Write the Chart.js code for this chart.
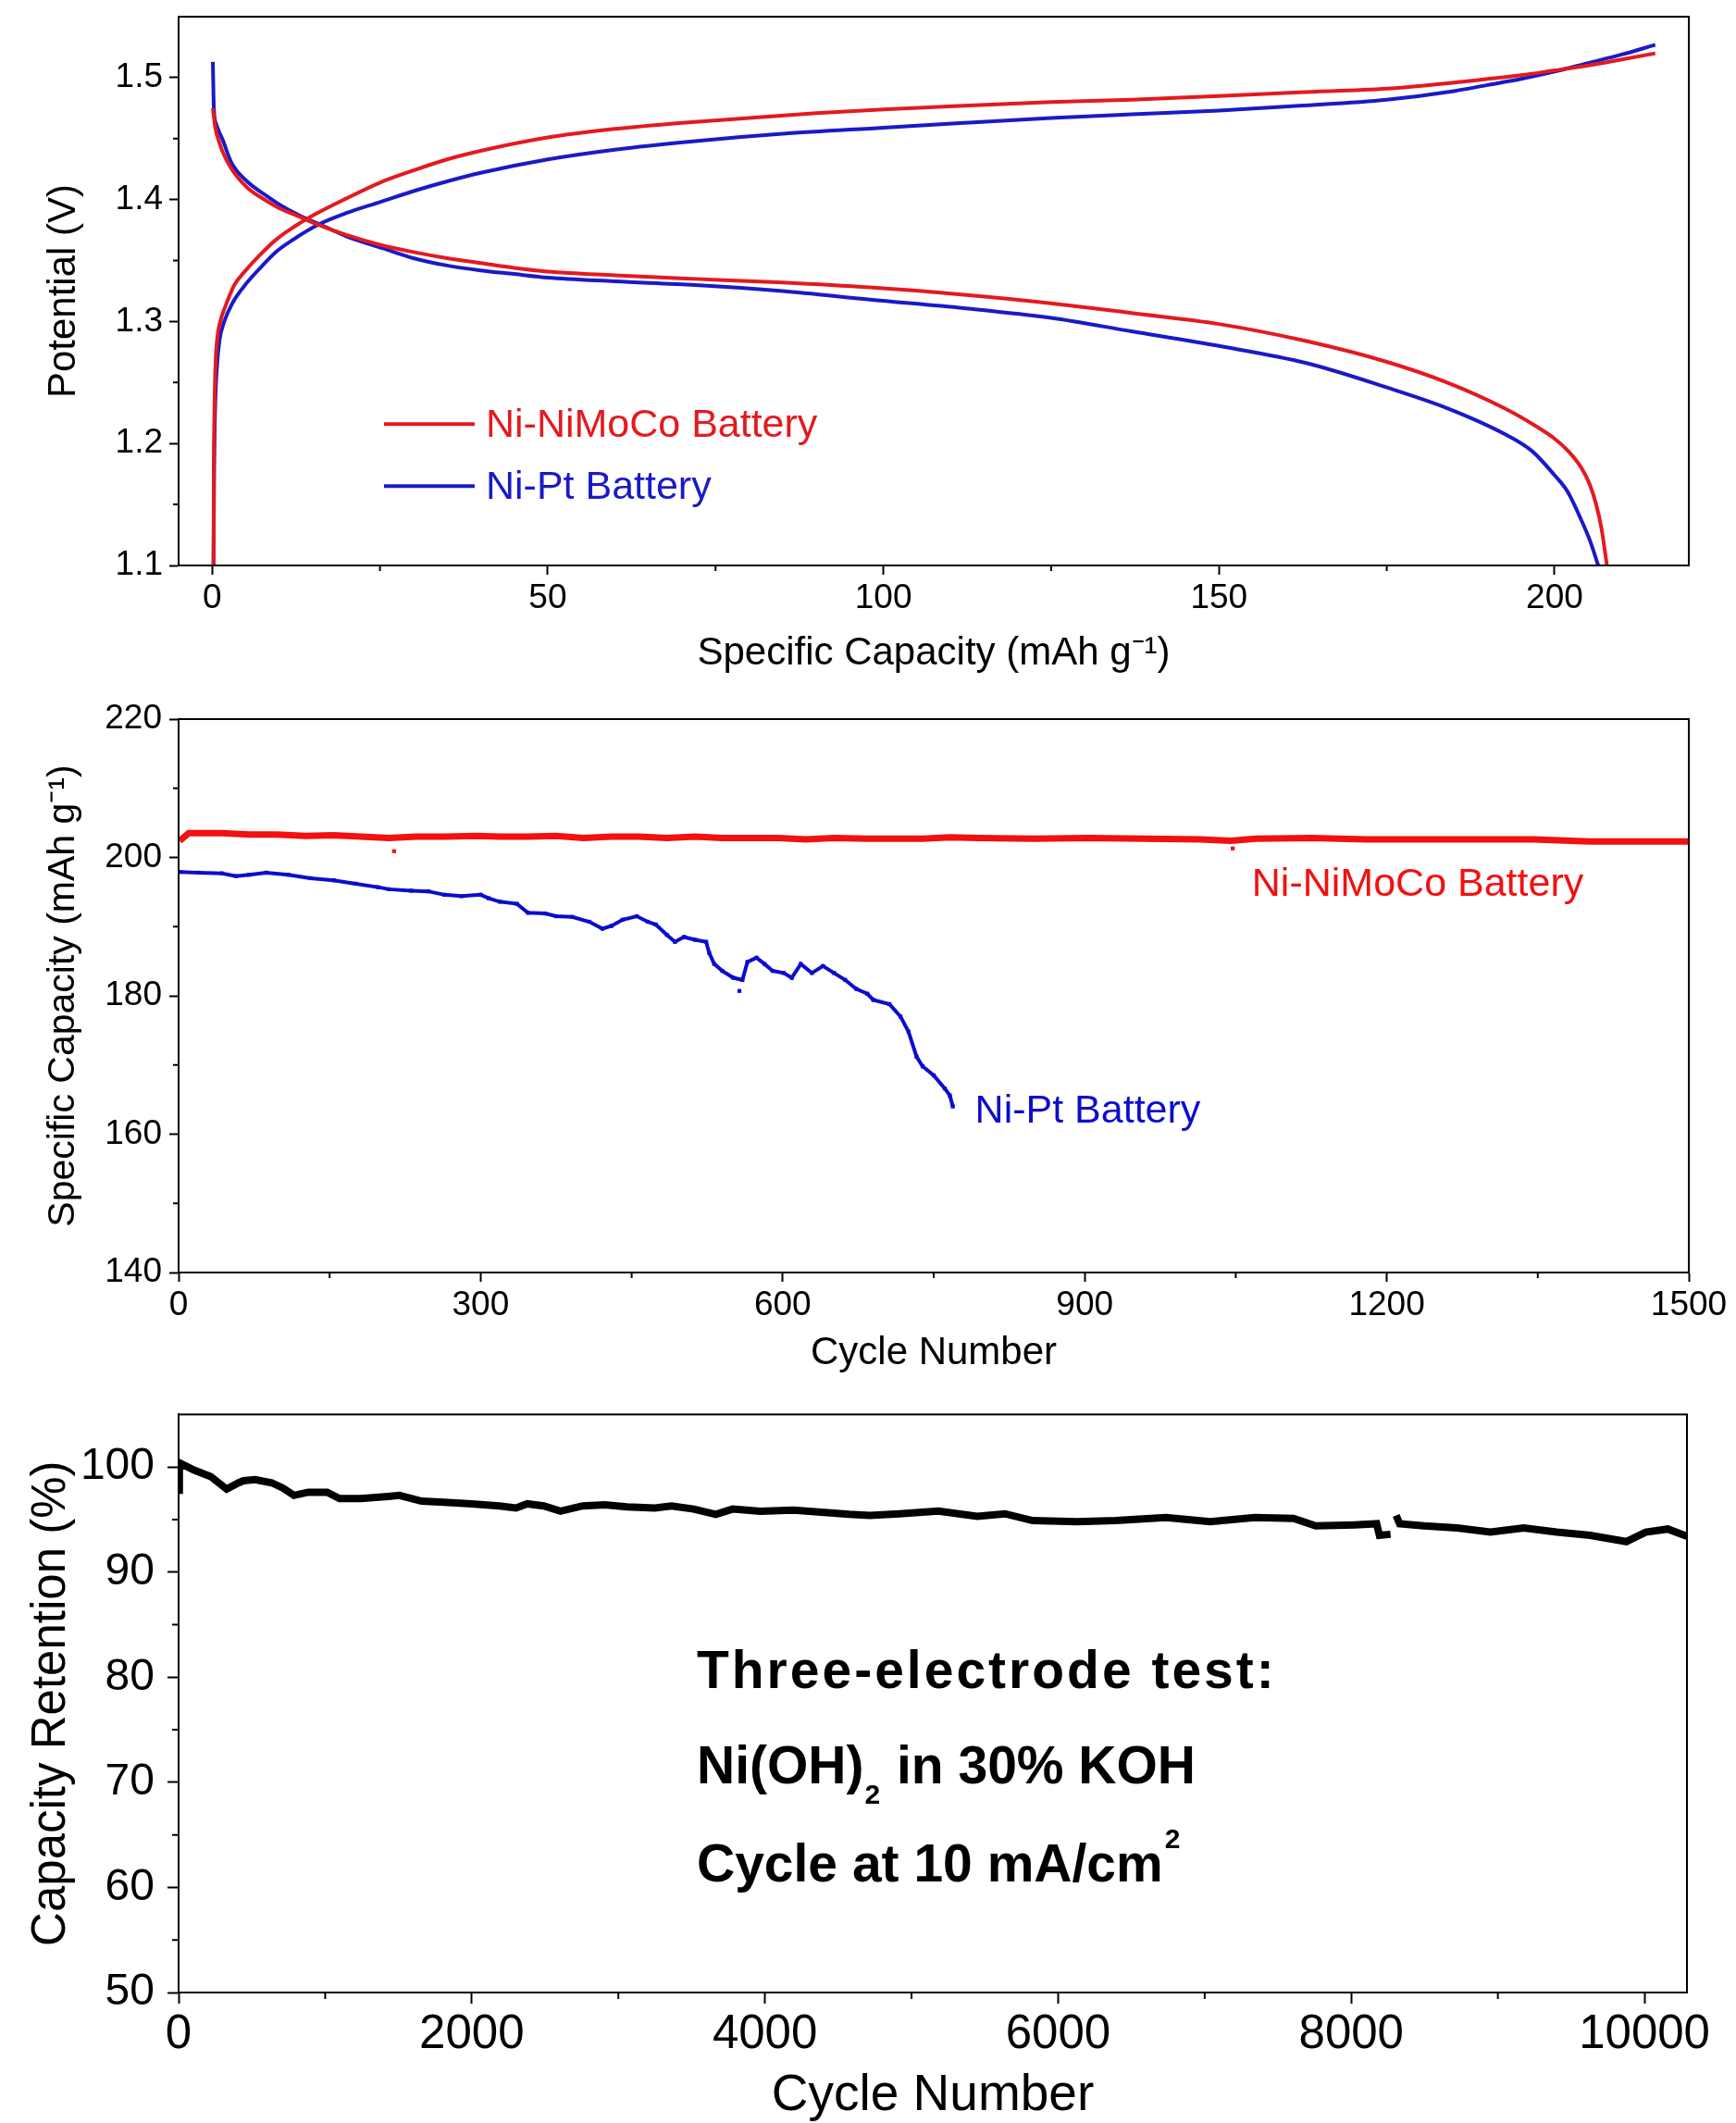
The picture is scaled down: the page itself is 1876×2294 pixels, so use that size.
<!DOCTYPE html>
<html><head><meta charset="utf-8">
<script src="https://cdn.jsdelivr.net/npm/chart.js@4/dist/chart.umd.min.js"></script>
<style>
html,body{margin:0;padding:0;background:#fff;}
#wrap{position:relative;width:1876px;height:2294px;background:#fff;}
canvas{position:absolute;left:0;}
</style></head><body>
<div id="wrap">
<canvas id="c1" width="1876" height="740" style="top:0px"></canvas>
<canvas id="c2" width="1876" height="760" style="top:740px"></canvas>
<canvas id="c3" width="1876" height="794" style="top:1500px"></canvas>
</div>
<script>
// ================= DATA =================
const seriesNames = ['Ni-NiMoCo Battery', 'Ni-Pt Battery'];

// Panel 1: charge / discharge curves (Specific capacity mAh/g, Potential V)
const capRedCharge = [0.2,0.25,0.35,0.5,0.8,1.2,2.0,3.3,5,7,9.7,12,15,20,25,30,35,40,50,60,70,80,90,100,112,125,137,150,162,175,185,190,195,200,205,210,215];
const potRedCharge = [1.100,1.18,1.23,1.265,1.288,1.300,1.313,1.330,1.342,1.354,1.368,1.377,1.387,1.401,1.414,1.424,1.433,1.440,1.451,1.458,1.463,1.467,1.471,1.474,1.477,1.480,1.482,1.485,1.488,1.491,1.496,1.499,1.502,1.506,1.510,1.515,1.520];
const capBlueCharge = [0.2,0.3,0.45,0.7,1.1,1.8,3,5.2,7.5,9.7,12,16,20,25,30,35,40,50,60,72,85,100,112,125,137,150,162,175,185,190,195,200,205,210,215];
const potBlueCharge = [1.100,1.18,1.23,1.262,1.285,1.300,1.315,1.332,1.346,1.358,1.367,1.380,1.389,1.398,1.407,1.415,1.422,1.433,1.441,1.448,1.454,1.459,1.463,1.467,1.470,1.473,1.477,1.482,1.489,1.494,1.499,1.505,1.512,1.519,1.527];
const capRedDischarge = [0.1,0.5,1.0,1.5,2.9,5.2,8.4,10,13,16,20,25,30,35,40,45,50,60,72,85,98,112,125,137,150,163,175,184,192.5,197,200,202,204,205.2,206.2,207,207.8];
const potRedDischarge = [1.475,1.458,1.448,1.440,1.425,1.410,1.398,1.393,1.386,1.379,1.371,1.363,1.357,1.352,1.348,1.344,1.341,1.338,1.335,1.332,1.328,1.322,1.315,1.307,1.298,1.284,1.267,1.250,1.229,1.215,1.204,1.194,1.180,1.167,1.150,1.130,1.100];
const capBlueDischarge = [0.1,0.15,0.25,0.6,1.0,1.5,2.9,5.2,8.4,10,13,16.3,20,25.5,30,35,40,45,50,60,72,85,98,112,125,137,150,163,175,184,192.5,196.6,200,202,204,205.3,206.5];
const potBlueDischarge = [1.513,1.500,1.475,1.462,1.456,1.450,1.430,1.415,1.402,1.396,1.387,1.379,1.370,1.360,1.352,1.346,1.342,1.339,1.336,1.333,1.330,1.325,1.318,1.311,1.303,1.292,1.280,1.266,1.246,1.229,1.208,1.194,1.174,1.160,1.137,1.120,1.100];
const capTicks = [0,50,100,150,200];
const capTickLabels = ['0','50','100','150','200'];
const potTicks = [1.1,1.2,1.3,1.4,1.5];
const potTickLabels = ['1.1','1.2','1.3','1.4','1.5'];

// Panel 2: cycling of full batteries (Cycle number, Specific capacity)
const redCycles = [1,10,43,71,98,126,154,181,209,236,264,297,319,347,375,402,430,457,485,513,540,568,596,623,651,684,739,766,794,849,904,960,1015,1045,1070,1125,1180,1235,1291,1346,1401,1456,1500];
const redCapacity = [202.4,203.5,203.5,203.3,203.3,203.1,203.2,203.0,202.8,203.0,203.0,203.1,203.0,203.0,203.1,202.8,203.0,203.0,202.8,203.0,202.8,202.8,202.8,202.6,202.8,202.7,202.7,202.9,202.8,202.7,202.8,202.7,202.6,202.4,202.7,202.8,202.6,202.6,202.6,202.6,202.3,202.3,202.3];
const redOutlierCycles = [214,1047];
const redOutlierCapacity = [200.9,201.3];
const blueCycles = [2,20,43,57,70,87,109,131,154,176,198,209,231,248,264,281,300,308,319,336,347,364,375,391,408,421,430,441,455,466,474,485,493,502,513,524,527,532,540,551,560,565,574,582,590,601,609,618,629,640,651,662,673,684,690,706,717,725,733,739,750,761,766,769];
const blueCapacity = [197.9,197.8,197.7,197.3,197.5,197.8,197.5,197.0,196.7,196.2,195.7,195.4,195.2,195.1,194.6,194.4,194.6,194.1,193.6,193.3,192.0,191.9,191.5,191.4,190.7,189.7,190.1,191.0,191.5,190.7,190.3,188.8,187.8,188.5,188.1,187.8,186.2,184.6,183.6,182.6,182.3,184.9,185.5,184.6,183.6,183.3,182.6,184.6,183.3,184.3,183.3,182.3,181.0,180.3,179.4,178.8,177.0,174.8,171.2,169.8,168.5,166.6,165.6,164.0];
const blueOutlierCycles = [557];
const blueOutlierCapacity = [180.7];
const cycTicks2 = [0,300,600,900,1200,1500];
const cycTickLabels2 = ['0','300','600','900','1200','1500'];
const capTicks2 = [140,160,180,200,220];
const capTickLabels2 = ['140','160','180','200','220'];

// Panel 3: three-electrode retention (Cycle number, Capacity retention %)
const retCycles = [0,5,106,219,328,409,443,522,636,712,787,884,1014,1098,1242,1431,1506,1658,1810,1999,2188,2302,2378,2491,2605,2757,2908,3060,3249,3362,3514,3665,3779,3968,4195,4384,4574,4716,4918,5183,5448,5637,5826,6129,6394,6735,7038,7341,7606,7757,8022,8173,8192,8268,8290,8306,8330,8495,8722,8949,9176,9403,9630,9876,10008,10159,10290];
const retValues = [97.8,100.4,99.7,99.1,97.9,98.5,98.7,98.8,98.5,98.0,97.3,97.6,97.6,97.0,97.0,97.2,97.3,96.75,96.65,96.5,96.3,96.1,96.5,96.3,95.8,96.3,96.4,96.2,96.1,96.3,96.0,95.5,96.0,95.8,95.9,95.7,95.5,95.4,95.55,95.8,95.3,95.55,94.9,94.8,94.9,95.2,94.8,95.2,95.1,94.4,94.5,94.6,93.5,93.6,null,95.4,94.6,94.4,94.2,93.8,94.2,93.8,93.5,92.9,93.8,94.1,93.4];
const cycTicks3 = [0,2000,4000,6000,8000,10000];
const cycTickLabels3 = ['0','2000','4000','6000','8000','10000'];
const retTicks = [50,60,70,80,90,100];
const retTickLabels = ['50','60','70','80','90','100'];
const annotationLines = ['Three-electrode test:', 'Ni(OH)|2| in 30% KOH', 'Cycle at 10 mA/cm^2^'];

// ================= HELPERS =================
const FONT = '"Liberation Sans", Arial, Helvetica, sans-serif';
const RED1 = '#e31a1f', BLUE1 = '#1a1ac6';
const RED2 = '#f21010', BLUE2 = '#0d0dcc';
const pts = (xs, ys) => xs.map((x, i) => ({x: x, y: ys[i]}));

const framePlugin = {
  id: 'frame',
  afterDraw(chart, args, opts) {
    const {ctx, chartArea: a, scales} = chart;
    ctx.save();
    ctx.strokeStyle = '#000';
    ctx.lineWidth = 2;
    ctx.strokeRect(a.left, a.top, a.right - a.left, a.bottom - a.top);
    ctx.beginPath();
    (opts.minorX || []).forEach(v => {
      const px = scales.x.getPixelForValue(v);
      ctx.moveTo(px, a.bottom); ctx.lineTo(px, a.bottom + opts.minorLen);
    });
    (opts.minorY || []).forEach(v => {
      const py = scales.y.getPixelForValue(v);
      ctx.moveTo(a.left, py); ctx.lineTo(a.left - opts.minorLen, py);
    });
    ctx.stroke();
    ctx.restore();
  }
};
Chart.register(framePlugin);

function axis(opts) {
  return {
    type: 'linear',
    min: opts.min, max: opts.max,
    afterBuildTicks: s => { s.ticks = opts.ticks.map(v => ({value: v})); },
    afterFit: opts.fit,
    ticks: {
      color: '#000',
      font: {family: FONT, size: opts.tickSize, lineHeight: opts.tickLH || 1.2},
      padding: opts.tickPad,
      maxRotation: 0, autoSkip: false,
      callback: (v) => { const i = opts.ticks.indexOf(v); return i >= 0 ? opts.labels[i] : ''; }
    },
    grid: {drawOnChartArea: false, drawTicks: true, tickLength: opts.tickLen, tickWidth: 2, tickColor: '#000'},
    border: {display: true, color: '#000', width: 2},
    title: {display: true, text: opts.title, color: '#000',
      font: {family: FONT, size: opts.titleSize, lineHeight: opts.titleLH || 1.2},
      padding: opts.titlePad}
  };
}

// ================= CHART 1 =================
new Chart(document.getElementById('c1'), {
  type: 'scatter',
  data: {datasets: [
    {data: pts(capRedCharge, potRedCharge), borderColor: RED1},
    {data: pts(capRedDischarge, potRedDischarge), borderColor: RED1},
    {data: pts(capBlueCharge, potBlueCharge), borderColor: BLUE1},
    {data: pts(capBlueDischarge, potBlueDischarge), borderColor: BLUE1}
  ].map(d => Object.assign(d, {showLine: true, borderWidth: 4, pointRadius: 0, cubicInterpolationMode: 'monotone', fill: false}))},
  options: {
    responsive: false, animation: false, devicePixelRatio: 1,
    layout: {padding: {left: 0, right: 51, top: 14, bottom: 0}},
    plugins: {
      legend: {display: false}, tooltip: {enabled: false},
      frame: {minorX: [25,75,125,175], minorY: [1.15,1.25,1.35,1.45], minorLen: 6}
    },
    scales: {
      x: axis({min: -5, max: 220, ticks: capTicks, labels: capTickLabels, tickSize: 37, tickPad: 4, tickLen: 10,
        fit: s => { s.height = 740 - 611; }, title: 'Specific Capacity (mAh g\u207B\u00B9)', titleSize: 42,
        titlePad: {top: 0, bottom: 8}}),
      y: axis({min: 1.1, max: 1.55, ticks: potTicks, labels: potTickLabels, tickSize: 37, tickLH: 0.6, tickPad: 7, tickLen: 10,
        fit: s => { s.width = 193; }, title: 'Potential (V)', titleSize: 42, titlePad: {top: 44, bottom: 0}})
    }
  },
  plugins: [{
    id: 'legendBox',
    afterDatasetsDraw(chart) {
      const {ctx, scales: {x, y}} = chart;
      const x0 = x.getPixelForValue(25.6), y0 = y.getPixelForValue(1.216);
      const cols = [RED1, BLUE1];
      ctx.save();
      seriesNames.forEach((name, i) => {
        const yy = y0 + i * 67;
        ctx.strokeStyle = cols[i]; ctx.lineWidth = 4;
        ctx.beginPath(); ctx.moveTo(x0, yy); ctx.lineTo(x0 + 98, yy); ctx.stroke();
        ctx.fillStyle = cols[i]; ctx.font = '43px ' + FONT; ctx.textBaseline = 'middle'; ctx.textAlign = 'left';
        ctx.fillText(name, x0 + 110, yy + 2);
      });
      ctx.restore();
    }
  }]
});

// ================= CHART 2 =================
new Chart(document.getElementById('c2'), {
  type: 'scatter',
  data: {datasets: [
    {data: pts(redCycles, redCapacity), showLine: true, borderColor: RED2, borderWidth: 7, pointRadius: 0, tension: 0},
    {data: pts(redOutlierCycles, redOutlierCapacity), showLine: false, backgroundColor: RED2, borderWidth: 0, pointStyle: 'rect', pointRadius: 3},
    {data: pts(blueCycles, blueCapacity), showLine: true, borderColor: BLUE2, borderWidth: 4, backgroundColor: BLUE2, pointBorderWidth: 0, pointStyle: 'rect', pointRadius: 3, tension: 0},
    {data: pts(blueOutlierCycles, blueOutlierCapacity), showLine: false, backgroundColor: BLUE2, borderWidth: 0, pointStyle: 'rect', pointRadius: 3}
  ]},
  options: {
    responsive: false, animation: false, devicePixelRatio: 1,
    layout: {padding: {left: 0, right: 51, top: 37, bottom: 0}},
    plugins: {
      legend: {display: false}, tooltip: {enabled: false},
      frame: {minorX: [150,450,750,1050,1350], minorY: [150,170,190,210], minorLen: 6}
    },
    scales: {
      x: axis({min: 0, max: 1500, ticks: cycTicks2, labels: cycTickLabels2, tickSize: 37, tickPad: 4, tickLen: 10,
        fit: s => { s.height = 760 - 635; }, title: 'Cycle Number', titleSize: 42, titlePad: {top: 0, bottom: 12}}),
      y: axis({min: 140, max: 220, ticks: capTicks2, labels: capTickLabels2, tickSize: 37, tickLH: 0.6, tickPad: 8, tickLen: 10,
        fit: s => { s.width = 193; }, title: 'Specific Capacity (mAh g\u207B\u00B9)', titleSize: 41, titlePad: {top: 44, bottom: 0}})
    }
  },
  plugins: [{
    id: 'seriesLabels',
    afterDatasetsDraw(chart) {
      const {ctx, scales: {x, y}} = chart;
      const pos = [[1066, 196.0, RED2], [791, 163.3, BLUE2]];
      ctx.save();
      ctx.font = '43px ' + FONT; ctx.textBaseline = 'middle'; ctx.textAlign = 'left';
      seriesNames.forEach((name, i) => {
        ctx.fillStyle = pos[i][2];
        ctx.fillText(name, x.getPixelForValue(pos[i][0]), y.getPixelForValue(pos[i][1]));
      });
      ctx.restore();
    }
  }]
});

// ================= CHART 3 =================
new Chart(document.getElementById('c3'), {
  type: 'scatter',
  data: {datasets: [
    {data: pts(retCycles, retValues), showLine: true, spanGaps: false, borderColor: '#000', borderWidth: 8, pointRadius: 0, tension: 0}
  ]},
  options: {
    responsive: false, animation: false, devicePixelRatio: 1,
    layout: {padding: {left: 0, right: 53, top: 25, bottom: 0}},
    plugins: {
      legend: {display: false}, tooltip: {enabled: false},
      frame: {minorX: [1000,3000,5000,7000,9000], minorY: [55,65,75,85,95], minorLen: 7}
    },
    scales: {
      x: axis({min: 0, max: 10290, ticks: cycTicks3, labels: cycTickLabels3, tickSize: 51, tickPad: 3, tickLen: 12,
        fit: s => { s.height = 794 - 653; }, title: 'Cycle Number', titleSize: 55, titleLH: 1.05, titlePad: {top: 0, bottom: 0}}),
      y: axis({min: 50, max: 105, ticks: retTicks, labels: retTickLabels, tickSize: 48, tickLH: 0.6, tickPad: 14, tickLen: 12,
        fit: s => { s.width = 193; }, title: 'Capacity Retention (%)', titleSize: 51, titlePad: {top: 25, bottom: 0}})
    }
  },
  plugins: [{
    id: 'note',
    afterDatasetsDraw(chart) {
      const {ctx, scales: {x, y}} = chart;
      const left = x.getPixelForValue(3535);
      const baselines = [79.0, 69.9, 60.6].map(v => y.getPixelForValue(v));
      const size = 57, small = 30;
      ctx.save();
      ctx.fillStyle = '#000'; ctx.textBaseline = 'alphabetic'; ctx.textAlign = 'left';
      annotationLines.forEach((line, i) => {
        let cx = left;
        ctx.letterSpacing = i === 0 ? '3px' : '0px';
        const parts = line.split(/(\|[^|]*\||\^[^^]*\^)/);
        parts.forEach(p => {
          if (!p) return;
          if (p[0] === '|') {
            ctx.font = 'bold ' + small + 'px ' + FONT;
            const t = p.slice(1, -1);
            ctx.fillText(t, cx + 1, baselines[i] + 22);
            cx += ctx.measureText(t).width + 3;
          } else if (p[0] === '^') {
            ctx.font = 'bold ' + small + 'px ' + FONT;
            const t = p.slice(1, -1);
            ctx.fillText(t, cx + 2, baselines[i] - 36);
            cx += ctx.measureText(t).width + 2;
          } else {
            ctx.font = 'bold ' + size + 'px ' + FONT;
            ctx.fillText(p, cx, baselines[i]);
            cx += ctx.measureText(p).width;
          }
        });
      });
      ctx.restore();
    }
  }]
});
</script>
</body></html>
